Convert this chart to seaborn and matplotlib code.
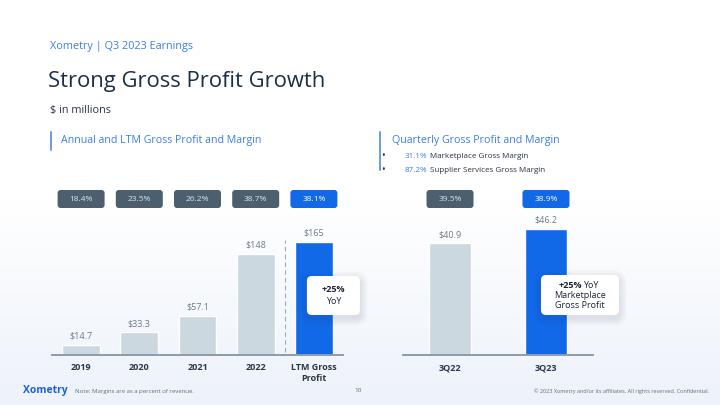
import numpy as np
import seaborn as sns
import matplotlib.pyplot as plt
from matplotlib.patches import FancyBboxPatch

# ---- data ($ in millions) ----
years = ['2019', '2020', '2021', '2022', 'LTM Gross\nProfit']
annual_gp = [14.7, 33.3, 57.1, 148, 165]
annual_labels = ['$14.7', '$33.3', '$57.1', '$148', '$165']
annual_margin = ['18.4%', '23.5%', '26.2%', '38.7%', '38.1%']

quarters = ['3Q22', '3Q23']
quarter_gp = [40.9, 46.2]
quarter_labels = ['$40.9', '$46.2']
quarter_margin = ['39.5%', '38.9%']

bullet_pct = ['31.1%', '87.2%']
bullet_txt = ['Marketplace Gross Margin', 'Supplier Services Gross Margin']

GREY_BAR = '#cbd8df'
BLUE = '#1169e8'
SLATE = '#4b5f6e'
NAVY = '#1b2f46'
LINK = '#3b7de3'
LABEL = '#6d7a88'
TICK = '#27384a'

sns.set_theme(style='white')
plt.rcParams['font.family'] = ['Open Sans', 'DejaVu Sans']

W, H = 720, 405
fig = plt.figure(figsize=(7.2, 4.05), dpi=100)
fig.patch.set_facecolor('white')


def box(x, y, w, h):
    # pixel box (top-left origin) -> figure fraction rect
    return [x / W, 1 - (y + h) / H, w / W, h / H]


# soft background gradient in the lower half
bg = fig.add_axes([0, 0, 1, 1], zorder=0)
rows = np.arange(H)
t = np.clip((rows - 200) / 190, 0, 1)[:, None, None]
light = np.array([0.935, 0.955, 0.982])
img = (1 - t) * np.ones(3) + t * light
img = np.repeat(img, 2, axis=1)
bg.imshow(img, extent=(0, W, H, 0), aspect='auto')
bg.set_xlim(0, W)
bg.set_ylim(H, 0)
bg.axis('off')

# ---- left chart: annual + LTM ----
ax1 = fig.add_axes(box(52, 225, 291, 130), zorder=2)
ax1.patch.set_alpha(0)
sns.barplot(x=years, y=annual_gp, hue=years, palette=[GREY_BAR] * 4 + [BLUE],
            width=0.65, saturation=1, legend=False, ax=ax1)
ax1.set_xlim(-0.5, 4.5)
ax1.set_ylim(0, 130 / 0.685)
for i, (v, lab) in enumerate(zip(annual_gp, annual_labels)):
    ax1.annotate(lab, (i, v), xytext=(0, 3), textcoords='offset points',
                 ha='center', va='bottom', fontsize=6.5, color=LABEL, clip_on=False)
ax1.vlines(3.5, 4, 168, colors='#9eabb5', linestyles=(0, (4, 3)), lw=0.8)

# ---- right chart: quarterly ----
ax2 = fig.add_axes(box(403, 225, 190, 130), zorder=2)
ax2.patch.set_alpha(0)
sns.barplot(x=quarters, y=quarter_gp, hue=quarters, palette=[GREY_BAR, BLUE],
            width=0.43, saturation=1, legend=False, ax=ax2)
ax2.set_xlim(-0.49, 1.49)
ax2.set_ylim(0, 130 / 2.73)
for i, (v, lab) in enumerate(zip(quarter_gp, quarter_labels)):
    ax2.annotate(lab, (i, v), xytext=(0, 3), textcoords='offset points',
                 ha='center', va='bottom', fontsize=6.5, color=LABEL, clip_on=False)

for ax in (ax1, ax2):
    sns.despine(ax=ax, left=True)
    ax.spines['bottom'].set_color('#8c9ca8')
    ax.spines['bottom'].set_linewidth(1.4)
    ax.set_yticks([])
    ax.set_xlabel('')
    ax.set_ylabel('')
    ax.tick_params(axis='x', length=0, pad=6)
    for tl in ax.get_xticklabels():
        tl.set_fontsize(6.5)
        tl.set_fontweight('bold')
        tl.set_color(TICK)
        tl.set_linespacing(1.3)

# ---- overlay for pills, callouts and slide text ----
ov = fig.add_axes([0, 0, 1, 1], zorder=5)
ov.patch.set_alpha(0)
ov.set_xlim(0, W)
ov.set_ylim(H, 0)
ov.axis('off')


def xpix(ax, i):
    return ax.transData.transform((i, 0))[0]


def pill(xc, text, color, txtcolor):
    ov.add_patch(FancyBboxPatch((xc - 23.5, 190), 47, 18,
                                boxstyle='round,pad=0,rounding_size=3',
                                fc=color, ec='none'))
    ov.text(xc, 199.5, text, ha='center', va='center', fontsize=6, color=txtcolor)


for i, m in enumerate(annual_margin):
    last = i == len(annual_margin) - 1
    pill(xpix(ax1, i), m, BLUE if last else SLATE, 'white' if last else '#dde4ea')
for i, m in enumerate(quarter_margin):
    last = i == len(quarter_margin) - 1
    pill(xpix(ax2, i), m, BLUE if last else SLATE, 'white' if last else '#dde4ea')


def callout(x, y, w, h):
    # soft drop shadow made of stacked translucent rounded boxes
    for k in range(1, 9):
        ov.add_patch(FancyBboxPatch((x - k, y + 3 - k), w + 2 * k, h + 2 * k,
                                    boxstyle='round,pad=0,rounding_size=%g' % (5 + k),
                                    fc='#1b2f46', ec='none', alpha=0.012))
    ov.add_patch(FancyBboxPatch((x, y), w, h, boxstyle='round,pad=0,rounding_size=5',
                                fc='white', ec='none'))


xl = xpix(ax1, 4)
callout(xl - 7, 276, 53, 39)
ov.text(xl + 19.5, 290, '+25%', ha='center', va='center', fontsize=6.5,
        fontweight='bold', color='#1a2433')
ov.text(xl + 19.5, 301, 'YoY', ha='center', va='center', fontsize=6.5, color='#1a2433')

xr = xpix(ax2, 1)
callout(xr - 5, 275, 78, 40)
ov.text(xr + 36, 286, '+25%', ha='right', va='center', fontsize=6.5,
        fontweight='bold', color='#1a2433')
ov.text(xr + 37.5, 286, 'YoY', ha='left', va='center', fontsize=6.5, color='#1a2433')
ov.text(xr + 34, 296, 'Marketplace', ha='center', va='center', fontsize=6.5, color='#1a2433')
ov.text(xr + 34, 306, 'Gross Profit', ha='center', va='center', fontsize=6.5, color='#1a2433')

# headers
ov.text(50, 47, 'Xometry | Q3 2023 Earnings', ha='left', va='center', fontsize=7.8, color=LINK)
ov.text(48, 81, 'Strong Gross Profit Growth', ha='left', va='center', fontsize=15.8, color=NAVY)
ov.text(50, 111, '$ in millions', ha='left', va='center', fontsize=7.8, color='#2a3340')

ov.plot([51, 51], [132, 150], color='#6a9be8', lw=1.4)
ov.text(61, 140, 'Annual and LTM Gross Profit and Margin', ha='left', va='center',
        fontsize=7.7, color=LINK)
ov.plot([380, 380], [132, 170], color='#6a9be8', lw=1.4)
ov.text(392, 140, 'Quarterly Gross Profit and Margin', ha='left', va='center',
        fontsize=7.7, color=LINK)

fig.canvas.draw()
r = fig.canvas.get_renderer()
for k, (p, s) in enumerate(zip(bullet_pct, bullet_txt)):
    yy = 157 + 14 * k
    ov.text(381, yy, '•', ha='left', va='center', fontsize=7, color='#2a3340')
    tp = ov.text(405, yy, p, ha='left', va='center', fontsize=5.8, color=LINK)
    x_end = tp.get_window_extent(r).x1
    ov.text(x_end + 2, yy, s, ha='left', va='center', fontsize=5.8, color='#2a3340')

# footer
ov.text(23, 391, 'Xometry', ha='left', va='center', fontsize=7.5, color='#1d5fd8', fontweight='bold')
ov.text(75, 391, 'Note: Margins are as a percent of revenue.', ha='left', va='center',
        fontsize=4.3, color='#5f6d7b')
ov.text(358, 391, '10', ha='center', va='center', fontsize=4.6, color='#5f6d7b')
ov.text(709, 391, '\u00a9 2023 Xometry and/or its affiliates. All rights reserved. Confidential.',
        ha='right', va='center', fontsize=4.0, color='#5f6d7b')

fig.savefig('out.png', dpi=100)
